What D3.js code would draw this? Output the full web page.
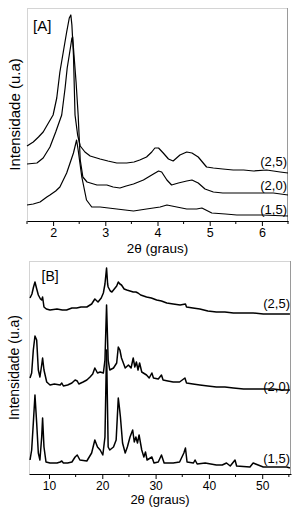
<!DOCTYPE html>
<html>
<head>
<meta charset="utf-8">
<script src="https://cdn.jsdelivr.net/npm/d3@7"></script>
<style>
    body { margin: 0; background: #fff; }
    svg { display: block; font-family: "Liberation Sans", Arial, sans-serif; }
    .curva { fill: none; stroke: #000; stroke-linejoin: round; }
</style>
</head>
<body>
<div id="chart"></div>
<script>
    // [A] baixo angulo - pares [2theta, intensidade u.a]
    var ticksA = [2, 3, 4, 5, 6];
    var minorA = [1.5, 2.5, 3.5, 4.5, 5.5, 6.5];
    var rotulosA = ["(2,5)", "(2,0)", "(1,5)"];

    var serieA25 = [[1.5, 75], [1.62, 79], [1.72, 84], [1.81, 89], [1.91, 98], [2.0, 106], [2.07, 123],
        [2.13, 149], [2.195, 169], [2.26, 189], [2.31, 203], [2.34, 206], [2.36, 196], [2.39, 166],
        [2.42, 106], [2.47, 86], [2.52, 75], [2.61, 69], [2.71, 65], [2.9, 62], [3.05, 60], [3.22, 58],
        [3.41, 58], [3.55, 59], [3.66, 61], [3.79, 64], [3.89, 69], [3.95, 73], [4.02, 73], [4.11, 68],
        [4.21, 62], [4.3, 60], [4.43, 66], [4.56, 69], [4.66, 68], [4.78, 64], [4.94, 54], [5.07, 53],
        [5.25, 52], [5.45, 51], [5.65, 51], [5.84, 50], [6.09, 51], [6.35, 49], [6.5, 48]];

    var serieA20 = [[1.5, 57], [1.69, 58], [1.81, 63], [1.94, 74], [2.05, 89], [2.165, 106], [2.23, 133],
        [2.27, 153], [2.31, 166], [2.34, 176], [2.36, 183], [2.375, 184], [2.4, 166], [2.44, 139],
        [2.48, 106], [2.52, 61], [2.57, 44], [2.65, 39], [2.84, 36], [3.03, 36], [3.15, 34], [3.28, 33],
        [3.4, 35], [3.54, 37], [3.73, 41], [3.89, 46], [4.02, 50], [4.08, 49], [4.18, 41], [4.27, 36],
        [4.4, 38], [4.56, 40], [4.66, 41], [4.78, 38], [4.91, 32], [5.07, 29], [5.25, 28], [5.45, 28],
        [5.84, 28], [6.22, 28], [6.5, 26]];

    var serieA15 = [[1.5, 16], [1.62, 17], [1.75, 19], [1.88, 24], [1.94, 26], [2.05, 30], [2.13, 34],
        [2.26, 48], [2.39, 68], [2.45, 81], [2.48, 71], [2.55, 44], [2.64, 21], [2.74, 14], [2.9, 14],
        [3.22, 12], [3.54, 10], [3.79, 12], [4.05, 14], [4.18, 16], [4.37, 14], [4.56, 12], [4.75, 12],
        [4.85, 13], [5.04, 8], [5.3, 7], [5.52, 6], [6.0, 6], [6.5, 5]];

    // [B] alto angulo
    var ticksB = [10, 20, 30, 40, 50];
    var minorB = [15, 25, 35, 45, 55];
    var rotulosB = ["(2,5)", "(2,0)", "(1,5)"];

    var serieB25 = [[6.44, 176], [6.8, 180], [7.1, 187], [7.37, 192], [7.7, 185], [8.0, 179], [8.4, 175],
        [8.63, 174], [8.8, 177], [9.06, 167], [9.5, 165], [10.2, 164], [11.5, 165], [12.5, 164], [13.3, 164],
        [14.3, 166], [15.2, 166], [16.0, 167], [17.1, 167], [18.0, 170], [18.6, 175], [19.2, 172], [19.8, 176],
        [20.2, 181], [20.5, 190], [20.8, 206], [21.0, 190], [21.1, 187], [21.5, 183], [21.8, 182], [22.4, 186],
        [22.7, 188], [23.0, 192], [23.3, 190], [23.6, 189], [24.1, 185], [24.6, 184], [25.2, 183], [25.8, 182],
        [26.3, 182], [26.7, 181], [27.2, 179], [28.3, 177], [29.2, 176], [30.2, 174], [31.1, 173], [32.1, 171],
        [33.3, 170], [34.6, 169], [35.6, 170], [35.8, 167], [37.0, 166], [38.3, 165], [39.8, 163], [41.4, 162],
        [43.0, 162], [44.6, 161], [46.5, 161], [48.3, 161], [50.2, 160], [52.1, 160], [53.6, 160], [55.2, 160]];

    var serieB20 = [[6.44, 96], [6.75, 101], [7.06, 124], [7.37, 138], [7.69, 134], [8.0, 104], [8.3, 97],
        [8.63, 109], [8.8, 116], [9.06, 104], [9.57, 92], [10.2, 89], [11.0, 90], [12.1, 89], [12.4, 91],
        [12.7, 88], [13.5, 89], [14.3, 91], [14.9, 94], [15.3, 93], [15.6, 90], [16.4, 92], [17.1, 94],
        [17.7, 97], [18.2, 100], [18.6, 106], [19.1, 101], [19.6, 102], [20.2, 101], [20.5, 114], [20.8, 169],
        [21.1, 114], [21.4, 104], [22.1, 106], [22.7, 111], [23.0, 127], [23.3, 124], [23.6, 116], [24.3, 106],
        [24.9, 109], [25.4, 106], [25.8, 116], [26.1, 107], [26.4, 112], [26.7, 104], [27.0, 111], [27.4, 102],
        [28.3, 99], [28.8, 96], [29.3, 101], [29.6, 96], [30.5, 95], [31.1, 99], [31.4, 94], [32.3, 93],
        [33.3, 92], [34.5, 92], [35.5, 96], [35.8, 91], [37.0, 90], [38.3, 89], [39.8, 88], [41.4, 87],
        [43.0, 87], [44.6, 86], [46.5, 85], [48.3, 85], [50.2, 85], [52.1, 85], [53.6, 84], [55.2, 84]];

    var serieB15 = [[6.44, 14], [6.75, 24], [7.06, 51], [7.37, 79], [7.69, 51], [8.0, 21], [8.3, 14],
        [8.63, 37], [8.8, 56], [9.06, 27], [9.44, 12], [10.2, 11], [11.5, 11], [12.1, 12], [12.4, 13],
        [12.7, 11], [13.5, 11], [14.3, 12], [14.9, 17], [15.3, 19], [15.8, 14], [17.1, 13], [18.0, 21],
        [18.6, 34], [19.1, 27], [19.6, 24], [20.1, 19], [20.5, 37], [20.8, 124], [21.1, 27], [21.4, 24],
        [22.1, 27], [22.6, 34], [23.0, 76], [23.2, 67], [23.4, 57], [23.8, 31], [24.3, 21], [24.7, 27],
        [25.2, 37], [25.7, 44], [26.0, 32], [26.3, 37], [26.6, 31], [26.9, 39], [27.4, 24], [27.8, 17],
        [28.1, 22], [28.4, 14], [29.3, 17], [29.7, 11], [30.5, 12], [31.1, 19], [31.6, 11], [33.3, 11],
        [34.5, 12], [35.3, 21], [35.6, 26], [35.9, 12], [37.1, 11], [37.4, 14], [37.8, 10], [39.3, 11],
        [41.4, 9], [42.5, 9], [43.3, 11], [44.0, 8], [44.9, 14], [45.2, 8], [47.7, 7], [48.3, 11],
        [50.2, 7], [52.5, 7], [54.6, 7], [55.2, 6]];

    var svg = d3.select("#chart").append("svg")
        .attr("width", 300)
        .attr("height", 514);

    desenhaPainel({
        left: 27, right: 288, top: 8, bottom: 221,
        dominio: [1.5, 6.5], ticks: ticksA, minor: minorA,
        series: [serieA25, serieA20, serieA15], rotulos: rotulosA,
        rotuloY: [166.2, 189.5, 213.5], espessura: 1.2,
        letra: "[A]", letraPos: [33, 30.5], letraFonte: 15,
        tituloY: 253, tituloFonte: 13.5, eixoYx: 19.5, eixoYfonte: 15, tickY: 237, tickFonte: 12.5
    });

    desenhaPainel({
        left: 29, right: 291, top: 261, bottom: 474,
        dominio: [6.25, 55.4], ticks: ticksB, minor: minorB,
        series: [serieB25, serieB20, serieB15], rotulos: rotulosB,
        rotuloY: [307.8, 391.2, 462.8], espessura: 1.5,
        letra: "[B]", letraPos: [41.5, 280.5], letraFonte: 14,
        tituloY: 504, tituloFonte: 13, eixoYx: 18.5, eixoYfonte: 14, tickY: 489.5, tickFonte: 12
    });

    function desenhaPainel(p) {
        var x = d3.scaleLinear().domain(p.dominio).range([p.left, p.right]);
        var y = d3.scaleLinear().domain([0, 213]).range([p.bottom, p.top]);

        var g = svg.append("g");

        // moldura cinza (topo/esquerda claros, direita mais escura)
        g.append("line").attr("x1", p.left).attr("x2", p.right).attr("y1", p.top + 0.5).attr("y2", p.top + 0.5)
            .attr("stroke", "#d4d4d4");
        g.append("line").attr("x1", p.left + 0.5).attr("x2", p.left + 0.5).attr("y1", p.top).attr("y2", p.bottom)
            .attr("stroke", "#d4d4d4");
        g.append("line").attr("x1", p.right - 0.5).attr("x2", p.right - 0.5).attr("y1", p.top).attr("y2", p.bottom)
            .attr("stroke", "#9a9a9a");

        var linha = d3.line()
            .x(function(d) { return x(d[0]); })
            .y(function(d) { return y(d[1]); });

        g.selectAll(".curva")
            .data(p.series)
            .enter().append("path")
            .attr("class", "curva")
            .attr("stroke-width", p.espessura)
            .attr("d", linha);

        var eixo = g.append("g")
            .attr("transform", "translate(0," + p.bottom + ")")
            .call(d3.axisBottom(x).tickValues(p.ticks).tickFormat(d3.format("d"))
                .tickSize(5).tickSizeOuter(0));
        eixo.select(".domain").attr("stroke-width", 1.2);
        eixo.selectAll("text")
            .attr("y", p.tickY - p.bottom).attr("dy", null)
            .style("font-size", p.tickFonte + "px")
            .style("font-family", "'Liberation Sans', Arial, sans-serif")
            .attr("fill", "#000");

        g.selectAll(".minor")
            .data(p.minor)
            .enter().append("line")
            .attr("class", "minor")
            .attr("x1", function(d) { return x(d); })
            .attr("x2", function(d) { return x(d); })
            .attr("y1", p.bottom)
            .attr("y2", p.bottom + 3)
            .attr("stroke", "#000");

        g.selectAll(".rotulo")
            .data(p.rotulos)
            .enter().append("text")
            .attr("class", "rotulo")
            .attr("x", p.right - 1)
            .attr("y", function(d, i) { return p.rotuloY[i]; })
            .attr("text-anchor", "end")
            .style("font-size", "13px")
            .text(function(d) { return d; });

        g.append("text")
            .attr("x", p.letraPos[0])
            .attr("y", p.letraPos[1])
            .style("font-size", p.letraFonte + "px")
            .text(p.letra);

        g.append("text")
            .attr("x", (p.left + p.right) / 2)
            .attr("y", p.tituloY)
            .attr("text-anchor", "middle")
            .style("font-size", p.tituloFonte + "px")
            .text("2θ (graus)");

        g.append("text")
            .attr("transform", "translate(" + p.eixoYx + "," + ((p.top + p.bottom) / 2) + ") rotate(-90)")
            .attr("text-anchor", "middle")
            .style("font-size", p.eixoYfonte + "px")
            .text("Intensidade (u.a)");
    }
</script>
</body>
</html>
